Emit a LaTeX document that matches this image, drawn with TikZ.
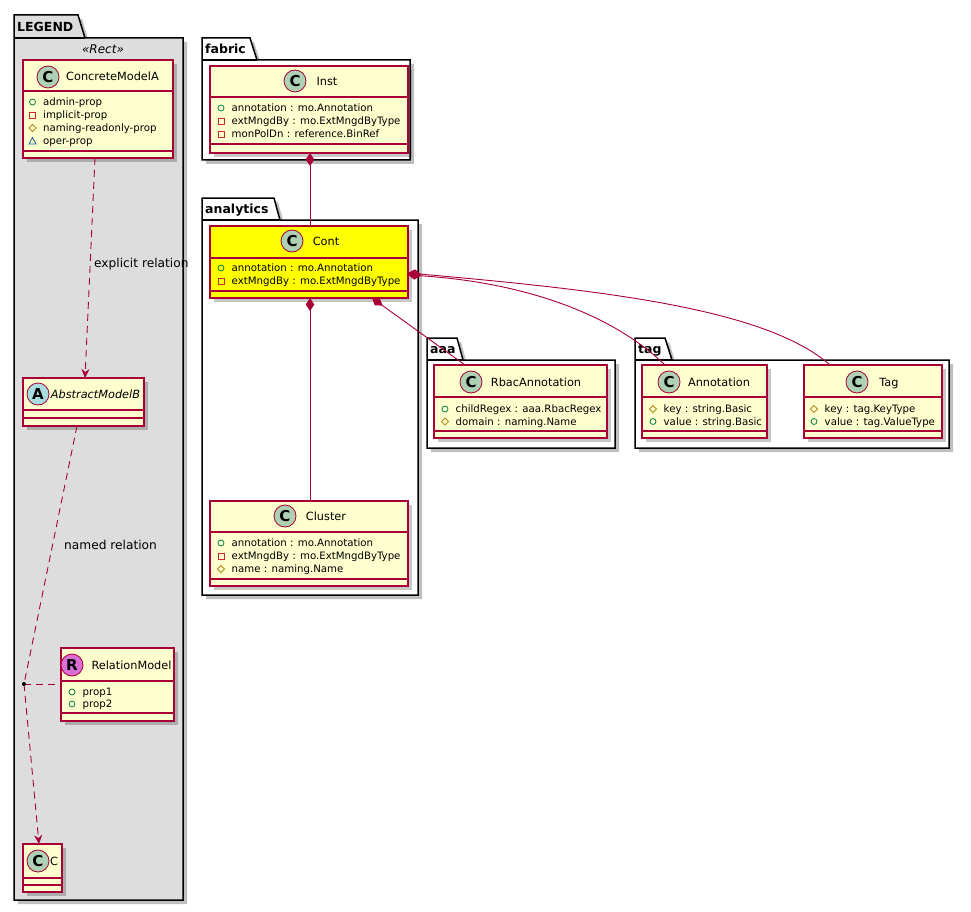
\documentclass[tikz,border=0pt]{standalone}
\usepackage{fontspec}
\setmainfont{DejaVu Sans}
\usetikzlibrary{arrows.meta}
\definecolor{clsfill}{HTML}{FEFECE}
\definecolor{clsborder}{HTML}{A80036}
\definecolor{legendfill}{HTML}{DDDDDD}
\definecolor{circC}{HTML}{ADD1B2}
\definecolor{circA}{HTML}{A9DCDF}
\definecolor{circR}{HTML}{DA70D6}
\definecolor{vgreen}{HTML}{038048}
\definecolor{vred}{HTML}{C82930}
\definecolor{vgold}{HTML}{B38D22}
\definecolor{vblue}{HTML}{1963A0}
\definecolor{hilite}{HTML}{FFFF00}
\tikzset{
  clsbox/.style={rectangle, draw=clsborder, line width=1.1pt, inner sep=0pt, outer sep=0pt},
  clsline/.style={draw=clsborder, line width=1.1pt},
  shadowA/.style={fill=black, opacity=0.22},
  pkgshadow/.style={fill=black, opacity=0.25},
  pkgline/.style={draw=black, line width=1.5pt},
  circ/.style={circle, draw=clsborder, line width=0.8pt, minimum size=22pt, inner sep=0pt,
    font=\fontsize{15}{15}\selectfont\bfseries},
  clsname/.style={font=\fontsize{11.3}{13}\selectfont, inner sep=0pt, text height=8.2pt, text depth=0pt},
  attrtext/.style={font=\fontsize{10.2}{12}\selectfont, inner sep=0pt, text height=7.5pt, text depth=0pt},
  pkgtitle/.style={font=\fontsize{12.5}{14}\selectfont\bfseries, inner sep=0pt, text height=9pt, text depth=0pt, anchor=west},
  rellabel/.style={font=\fontsize{12.2}{14}\selectfont, inner sep=0pt, text height=8.8pt, text depth=0pt, anchor=west},
  rel/.style={draw=clsborder, line width=0.9pt},
  dashrel/.style={rel, dash pattern=on 7pt off 5pt},
  comp/.style={rel, {Diamond[length=13pt,width=8.5pt,fill=clsborder]}-},
  dep/.style={dashrel, -{Stealth[length=9pt,width=8pt,inset=3pt]}},
  pics/vpub/.style={code={\draw[vgreen, line width=0.8pt] (0,0) circle[radius=3];}},
  pics/vpriv/.style={code={\draw[vred, line width=0.8pt] (-3,-3) rectangle (3,3);}},
  pics/vprot/.style={code={\draw[vgold, line width=0.8pt] (-3.5,0) -- (0,-3.5) -- (3.5,0) -- (0,3.5) -- cycle;}},
  pics/vpkg/.style={code={\draw[vblue, line width=0.8pt] (-3.5,3) -- (3.5,3) -- (0,-3.5) -- cycle;}},
}
\newcommand\pkgshape[9]{%
  \fill[pkgshadow] ({#2+4},{#3+4}) -- ({#4+4},{#3+4}) -- ({#5+4},{#6+4}) -- ({#7+4},{#6+4}) -- ({#7+4},{#8+4}) -- ({#2+4},{#8+4}) -- cycle;
  \filldraw[pkgline, fill=#9] (#2,#3) -- (#4,#3) -- (#5,#6) -- (#7,#6) -- (#7,#8) -- (#2,#8) -- cycle;
  \draw[pkgline] (#2,#6) -- (#5,#6);
  \node[inner sep=0pt, outer sep=0pt, minimum width={#7-#2}, minimum height={#8-#6}, anchor=north west] (#1) at (#2,#6) {};
}
\newcommand\cls[8]{%
  \fill[shadowA] ({#2+4},{#3+4}) rectangle ({#4+4},{#5+4});
  \node[clsbox, fill=#8, minimum width={#4-#2}, minimum height={#5-#3}, anchor=north west] (#1) at (#2,#3) {};
  \draw[clsline] (#2,#6) -- (#4,#6) (#2,#7) -- (#4,#7);
}
\newcommand\attr[5]{%
  \pic at (#2,#3) {#4};
  \node[attrtext, anchor=west] (#1) at ({#2+10.5},#3) {#5};
}
\begin{document}
\begin{tikzpicture}[x=1pt,y=-1pt]
\useasboundingbox (0,0) rectangle (971,912);
\fill[white] (0,0) rectangle (971,912);

% packages
\pkgshape{legend}{14}{15}{78}{85}{38}{183}{900}{legendfill}
\node[pkgtitle] (legendT) at (17,27) {LEGEND};
\node[font=\fontsize{12}{14}\selectfont\itshape, inner sep=0pt] (rectT) at (103,49) {«Rect»};
\pkgshape{fabric}{202}{38}{250}{257}{60}{410}{160}{white}
\node[pkgtitle] (fabricT) at (205,49) {fabric};
\pkgshape{analytics}{202}{198}{274}{280}{220}{418}{595}{white}
\node[pkgtitle] (analyticsT) at (205,209) {analytics};
\pkgshape{aaa}{427}{338}{457}{463}{360}{615}{448}{white}
\node[pkgtitle] (aaaT) at (430,349) {aaa};
\pkgshape{tag}{635}{338}{665}{672}{360}{949}{448}{white}
\node[pkgtitle] (tagT) at (638,349) {tag};

% legend classes
\cls{concrete}{23}{60}{173}{158}{91}{151}{clsfill}
\node[circ, fill=circC] (concreteI) at (48,77) {C};
\node[clsname] (concreteN) at (112.5,76) {ConcreteModelA};
\attr{concreteA1}{32.5}{102}{vpub}{admin-prop}
\attr{concreteA2}{32.5}{115}{vpriv}{implicit-prop}
\attr{concreteA3}{32.5}{128}{vprot}{naming-readonly-prop}
\attr{concreteA4}{32.5}{141}{vpkg}{oper-prop}

\cls{abstract}{23}{378}{144}{426}{410}{418}{clsfill}
\node[circ, fill=circA] (abstractI) at (38,394) {A};
\node[clsname, font=\fontsize{11.3}{13}\selectfont\itshape] (abstractN) at (95.5,394) {AbstractModelB};

\cls{relmodel}{61}{648}{174}{721}{681}{713}{clsfill}
\node[circ, fill=circR] (relmodelI) at (72,665) {R};
\node[clsname] (relmodelN) at (131.5,665) {RelationModel};
\attr{relmodelA1}{72}{692}{vpub}{prop1}
\attr{relmodelA2}{72}{704}{vpub}{prop2}

\cls{cc}{23}{844}{62}{892}{878}{885}{clsfill}
\node[circ, fill=circC] (ccI) at (38,861) {C};
\node[clsname] (ccN) at (54,861) {C};

% fabric / analytics classes
\cls{inst}{210}{66}{408}{153}{97}{144}{clsfill}
\node[circ, fill=circC] (instI) at (295,81) {C};
\node[clsname] (instN) at (327,81) {Inst};
\attr{instA1}{221}{108}{vpub}{annotation : mo.Annotation}
\attr{instA2}{221}{121}{vpriv}{extMngdBy : mo.ExtMngdByType}
\attr{instA3}{221}{134}{vpriv}{monPolDn : reference.BinRef}

\cls{cont}{210}{226}{408}{298}{258}{291}{hilite}
\node[circ, fill=circC] (contI) at (292,241) {C};
\node[clsname] (contN) at (326,241) {Cont};
\attr{contA1}{221}{268}{vpub}{annotation : mo.Annotation}
\attr{contA2}{221}{281}{vpriv}{extMngdBy : mo.ExtMngdByType}

\cls{cluster}{210}{501}{408}{586}{532}{579}{clsfill}
\node[circ, fill=circC] (clusterI) at (285,516) {C};
\node[clsname] (clusterN) at (326,516) {Cluster};
\attr{clusterA1}{221}{543}{vpub}{annotation : mo.Annotation}
\attr{clusterA2}{221}{556}{vpriv}{extMngdBy : mo.ExtMngdByType}
\attr{clusterA3}{221}{569}{vprot}{name : naming.Name}

% aaa / tag classes
\cls{rbac}{434}{365}{607}{438}{397}{431}{clsfill}
\node[circ, fill=circC] (rbacI) at (471,382) {C};
\node[clsname] (rbacN) at (536,382) {RbacAnnotation};
\attr{rbacA1}{445}{409}{vpub}{childRegex : aaa.RbacRegex}
\attr{rbacA2}{445}{421.5}{vprot}{domain : naming.Name}

\cls{annot}{642}{365}{767}{438}{397}{431}{clsfill}
\node[circ, fill=circC] (annotI) at (669,382) {C};
\node[clsname] (annotN) at (719,382) {Annotation};
\attr{annotA1}{653}{409}{vprot}{key : string.Basic}
\attr{annotA2}{653}{421.5}{vpub}{value : string.Basic}

\cls{tagc}{804}{365}{942}{438}{397}{431}{clsfill}
\node[circ, fill=circC] (tagcI) at (857,382) {C};
\node[clsname] (tagcN) at (889,382) {Tag};
\attr{tagcA1}{814}{409}{vprot}{key : tag.KeyType}
\attr{tagcA2}{814}{421.5}{vpub}{value : tag.ValueType}

% connectors
\draw[comp] ([xshift=1pt]inst.south) -- ([xshift=1pt]cont.north);
\draw[comp] ([xshift=1pt]cont.south) -- ([xshift=1pt]cluster.north);
\draw[comp] ([xshift=63pt]cont.south) -- ([xshift=-55.5pt]rbac.north);
\draw[comp] ([yshift=-13pt]cont.east) .. controls (520,282) and (610,312) .. ([xshift=-39.5pt]annot.north);
\draw[comp] ([yshift=-11pt]cont.east) .. controls (600,290) and (765,308) .. ([xshift=-43pt]tagc.north);

\draw[dep] ([xshift=-3pt]concrete.south) -- ([xshift=1.5pt]abstract.north);
\node[rellabel] (explicitL) at (94,263) {explicit relation};
\coordinate (junc) at (24,684);
\draw[dashrel] ([xshift=-6.5pt]abstract.south) -- (junc);
\draw[dep] (junc) -- ([xshift=-3.5pt]cc.north);
\draw[dashrel] (junc) -- (junc -| relmodel.west);
\fill[black] (junc) circle[radius=2];
\node[rellabel] (namedL) at (64,545) {named relation};
\end{tikzpicture}
\end{document}
